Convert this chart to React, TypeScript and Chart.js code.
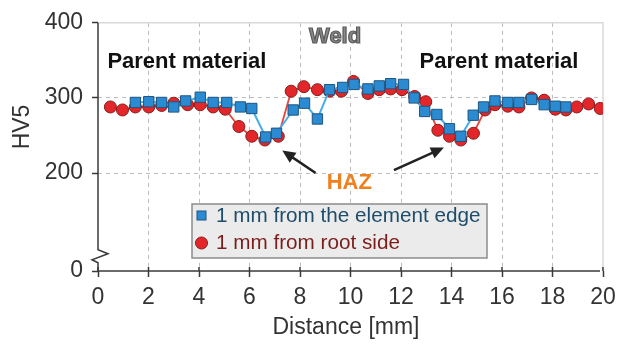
import React, { useEffect, useRef } from 'react';
import { Chart, registerables } from 'chart.js';

Chart.register(...registerables);

// ---- data ----
const edgeDistance = [1.48, 2.01, 2.52, 3.0, 3.47, 4.05, 4.56, 5.1, 5.64, 6.09, 6.64, 7.07, 7.73, 8.18, 8.69, 9.17, 9.69, 10.14, 10.69, 11.14, 11.59, 12.1, 12.52, 12.94, 13.42, 13.92, 14.37, 14.86, 15.27, 15.72, 16.23, 16.67, 17.17, 17.67, 18.11, 18.53];
const edgeHV5 = [294, 295, 294, 288, 296, 301, 294, 294, 288, 286, 248, 253, 284, 293, 272, 311, 314, 318, 312, 316, 319, 318, 300, 282, 278, 259, 249, 277, 288, 296, 294, 294, 298, 291, 289, 288];

const rootDistance = [0.49, 0.97, 1.48, 2.01, 2.52, 3.0, 3.55, 4.05, 4.56, 5.04, 5.58, 6.09, 6.61, 7.14, 7.65, 8.15, 8.69, 9.17, 9.64, 10.12, 10.69, 11.14, 11.59, 12.04, 12.54, 12.98, 13.46, 13.92, 14.37, 14.87, 15.33, 15.72, 16.23, 16.67, 17.17, 17.67, 18.11, 18.53, 18.96, 19.43, 19.89];
const rootHV5 = [288, 284, 288, 288, 290, 293, 291, 291, 288, 285, 262, 249, 244, 249, 309, 315, 311, 309, 309, 322, 306, 311, 312, 311, 302, 295, 257, 249, 244, 253, 284, 291, 289, 288, 300, 297, 285, 284, 288, 292, 286];

const seriesLabels = ['1 mm from the element edge', '1 mm from root side'];
const xTickValues = [0, 2, 4, 6, 8, 10, 12, 14, 16, 18, 20];
const yTickValues = [200, 300, 400];
const yBreakBottom = 69.7; // value at the bottom of the broken axis, labelled "0"
const yBreakLabel = '0';
const xTitle = 'Distance [mm]';
const yTitle = 'HV5';
const regionTexts = ['Parent material', 'Weld', 'Parent material', 'HAZ'];

const FONT = '"Liberation Sans", Arial, Helvetica, sans-serif';

const decorPlugin = {
  id: 'decor',
  beforeDatasetsDraw(chart: any) {
    const { ctx, chartArea } = chart;
    const { left, right, top, bottom } = chartArea;
    ctx.save();
    // light frame top/right
    ctx.strokeStyle = '#d9d9d9';
    ctx.lineWidth = 1.5;
    ctx.beginPath();
    ctx.moveTo(left, top);
    ctx.lineTo(right, top);
    ctx.lineTo(right, bottom);
    ctx.stroke();
    // x axis line
    ctx.strokeStyle = '#3a3a3a';
    ctx.lineWidth = 1.5;
    ctx.beginPath();
    ctx.moveTo(left, bottom);
    ctx.lineTo(right - 3, bottom);
    ctx.stroke();
    // x tick marks above the axis
    const xs = chart.scales.x;
    xTickValues.forEach((v) => {
      const px = xs.getPixelForValue(v);
      ctx.beginPath();
      ctx.moveTo(px, bottom - 4);
      ctx.lineTo(px, bottom);
      ctx.stroke();
    });
    // y axis with break
    const ys = chart.scales.y;
    const yb = ys.getPixelForValue(90);
    ctx.beginPath();
    ctx.moveTo(left, top);
    ctx.lineTo(left, yb - 6);
    ctx.lineTo(left + 10, yb - 2);
    ctx.lineTo(left - 6, yb + 4);
    ctx.lineTo(left, yb + 7);
    ctx.lineTo(left, bottom);
    ctx.stroke();
    ctx.restore();
  },
  afterDraw(chart: any) {
    const { ctx } = chart;
    const xs = chart.scales.x;
    const ys = chart.scales.y;
    const X = (v: number) => xs.getPixelForValue(v);
    const Y = (v: number) => ys.getPixelForValue(v);
    ctx.save();
    ctx.textAlign = 'center';
    ctx.textBaseline = 'middle';

    // region texts
    ctx.font = `bold 22px ${FONT}`;
    ctx.fillStyle = '#111';
    ctx.fillText(regionTexts[0], X(3.52), Y(348));
    ctx.fillText(regionTexts[2], X(15.88), Y(348));
    ctx.fillStyle = '#8a8a8a';
    ctx.strokeStyle = '#5a5a5a';
    ctx.lineWidth = 1.2;
    ctx.fillText(regionTexts[1], X(9.39), Y(380.6));
    ctx.strokeText(regionTexts[1], X(9.39), Y(380.6));
    ctx.fillStyle = '#f07f1e';
    ctx.fillText(regionTexts[3], X(9.95), Y(187));

    // arrows
    const arrow = (x1: number, y1: number, x2: number, y2: number) => {
      const ang = Math.atan2(y2 - y1, x2 - x1);
      const hl = 13, hw = 6;
      ctx.strokeStyle = '#222';
      ctx.fillStyle = '#222';
      ctx.lineWidth = 2.5;
      ctx.beginPath();
      ctx.moveTo(x1, y1);
      ctx.lineTo(x2 - Math.cos(ang) * hl * 0.8, y2 - Math.sin(ang) * hl * 0.8);
      ctx.stroke();
      ctx.beginPath();
      ctx.moveTo(x2, y2);
      ctx.lineTo(x2 - Math.cos(ang) * hl - Math.sin(ang) * hw, y2 - Math.sin(ang) * hl + Math.cos(ang) * hw);
      ctx.lineTo(x2 - Math.cos(ang) * hl + Math.sin(ang) * hw, y2 - Math.sin(ang) * hl - Math.cos(ang) * hw);
      ctx.closePath();
      ctx.fill();
    };
    arrow(X(8.62), Y(200), X(7.3), Y(230));
    arrow(X(11.72), Y(204), X(13.7), Y(234));

    // y title
    ctx.save();
    ctx.translate(23, 127);
    ctx.rotate(-Math.PI / 2);
    ctx.font = `23px ${FONT}`;
    ctx.fillStyle = '#333';
    ctx.fillText(yTitle, 0, 0);
    ctx.restore();
    // x title
    ctx.font = `23px ${FONT}`;
    ctx.fillStyle = '#333';
    ctx.fillText(xTitle, 346, 328);

    // legend box
    const bx = 192, by = 204, bw = 295, bh = 54;
    ctx.fillStyle = '#ebebeb';
    ctx.fillRect(bx, by, bw, bh);
    ctx.strokeStyle = '#8c8c8c';
    ctx.lineWidth = 1.5;
    ctx.strokeRect(bx, by, bw, bh);
    const ds = chart.data.datasets;
    ctx.textAlign = 'left';
    ctx.font = `20.7px ${FONT}`;
    // item 1: square
    ctx.fillStyle = ds[0].pointBackgroundColor;
    ctx.strokeStyle = ds[0].pointBorderColor;
    ctx.lineWidth = 1;
    ctx.fillRect(bx + 5, by + 7, 9, 9);
    ctx.strokeRect(bx + 5, by + 7, 9, 9);
    ctx.fillStyle = '#1e4d6b';
    ctx.fillText(ds[0].label, bx + 24, by + 12);
    // item 2: circle
    ctx.fillStyle = ds[1].pointBackgroundColor;
    ctx.strokeStyle = ds[1].pointBorderColor;
    ctx.beginPath();
    ctx.arc(bx + 9.5, by + 39, 6, 0, Math.PI * 2);
    ctx.fill();
    ctx.stroke();
    ctx.fillStyle = '#7a1d1d';
    ctx.fillText(ds[1].label, bx + 24, by + 39);
    ctx.restore();
  },
};

export default function App() {
  const ref = useRef<HTMLCanvasElement | null>(null);
  useEffect(() => {
    if (!ref.current) return;
    const chart = new Chart(ref.current, {
      type: 'line',
      data: {
        datasets: [
          {
            label: seriesLabels[0],
            data: edgeDistance.map((x, i) => ({ x, y: edgeHV5[i] })),
            borderColor: '#49aee6',
            borderWidth: 2,
            pointStyle: 'rect',
            pointRadius: 7.3,
            pointBackgroundColor: '#2a8bd2',
            pointBorderColor: '#1f557f',
            pointBorderWidth: 1,
            tension: 0,
          },
          {
            label: seriesLabels[1],
            data: rootDistance.map((x, i) => ({ x, y: rootHV5[i] })),
            borderColor: '#e8453f',
            borderWidth: 1.8,
            pointStyle: 'circle',
            pointRadius: 6,
            pointBackgroundColor: '#e3262a',
            pointBorderColor: '#8a1c1c',
            pointBorderWidth: 1,
            tension: 0,
          },
        ],
      },
      options: {
        animation: false,
        responsive: false,
        layout: { padding: { top: 15, right: 28, left: 0, bottom: 0 } },
        plugins: { legend: { display: false }, tooltip: { enabled: false } },
        scales: {
          x: {
            type: 'linear',
            min: 0,
            max: 20,
            afterFit: (s: any) => { s.height = 75; },
            afterBuildTicks: (s: any) => { s.ticks = xTickValues.map((v) => ({ value: v })); },
            ticks: { font: { family: FONT, size: 23 }, color: '#333', padding: 7, maxRotation: 0, autoSkip: false },
            grid: {
              color: (c: any) => (c.tick && (c.tick.value === 0 || c.tick.value === 20) ? 'rgba(0,0,0,0)' : '#bdbdbd'),
              tickColor: '#3a3a3a',
              tickLength: 6,
              tickWidth: 1.5,
              lineWidth: 1,
            },
            border: { display: false, dash: [4, 4] },
          },
          y: {
            type: 'linear',
            min: yBreakBottom,
            max: 400,
            afterFit: (s: any) => { s.width = 98; },
            afterBuildTicks: (s: any) => { s.ticks = [yBreakBottom, ...yTickValues].map((v) => ({ value: v })); },
            ticks: {
              font: { family: FONT, size: 23 },
              color: '#333',
              padding: 9,
              callback: (v: any) => (v < 100 ? yBreakLabel : String(v)),
            },
            grid: {
              color: (c: any) => (c.tick && (c.tick.value === 200 || c.tick.value === 300) ? '#bdbdbd' : 'rgba(0,0,0,0)'),
              tickColor: '#3a3a3a',
              tickLength: 6,
              tickWidth: 1.5,
              lineWidth: 1,
            },
            border: { display: false, dash: [4, 4] },
          },
        },
      },
      plugins: [decorPlugin],
    } as any);
    return () => chart.destroy();
  }, []);
  return (
    <div style={{ position: 'fixed', left: 0, top: 0, width: 631, height: 346, background: '#fff' }}>
      <canvas ref={ref} width={631} height={346} style={{ width: 631, height: 346, display: 'block' }} />
    </div>
  );
}
